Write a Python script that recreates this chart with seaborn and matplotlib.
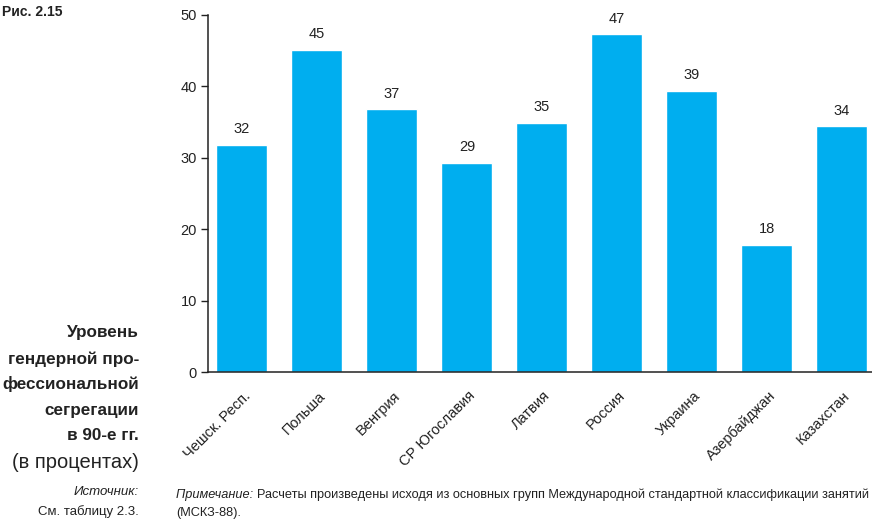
import matplotlib
matplotlib.use("Agg")
import matplotlib.pyplot as plt
import matplotlib.transforms as mtransforms
import seaborn as sns
import pandas as pd

countries = ["Чешск. Респ.", "Польша", "Венгрия", "СР Югославия", "Латвия",
             "Россия", "Украина", "Азербайджан", "Казахстан"]
segregation = [31.8, 45.1, 36.8, 29.3, 34.9, 47.3, 39.4, 17.8, 34.4]
y_ticks = [0, 10, 20, 30, 40, 50]

df = pd.DataFrame({"country": countries, "value": segregation})

sns.set_theme(style="white")
plt.rcParams["font.family"] = ["Liberation Sans", "DejaVu Sans"]
ink = "#222222"

fig = plt.figure(figsize=(8.72, 5.22), dpi=100)
ax = fig.add_axes([208 / 872, 1 - 372 / 522, 1 - 208 / 872, (372 - 15) / 522])

sns.barplot(data=df, x="country", y="value", color="#00aeef", saturation=1,
            width=0.68, ax=ax)

for i, v in enumerate(segregation):
    ax.text(i, v + 1.2, f"{v:.0f}", ha="center", va="bottom", fontsize=10.5,
            color=ink)

ax.set_ylim(0, 50)
ax.set_xlim(-0.453, 8.4)
ax.set_yticks(y_ticks)
ax.set_yticklabels([str(t) for t in y_ticks], fontsize=10.5, color=ink)
ax.set_xlabel("")
ax.set_ylabel("")
ax.tick_params(axis="y", direction="out", length=5, width=1, color=ink, pad=3,
               left=True)
ax.tick_params(axis="x", length=0, pad=12)

offset = mtransforms.ScaledTranslation(1 / 100, 0, fig.dpi_scale_trans)
ax.set_xticks(range(len(countries)))
ax.set_xticklabels(countries, rotation=45, ha="right", rotation_mode="anchor",
                   fontsize=10.5, color=ink)
for lbl in ax.get_xticklabels():
    lbl.set_transform(lbl.get_transform() + offset)

for side in ["top", "right"]:
    ax.spines[side].set_visible(False)
for side in ["left", "bottom"]:
    ax.spines[side].set_color(ink)
    ax.spines[side].set_linewidth(1.1)

fig.text(2 / 872, 1 - 12 / 522, "Рис. 2.15", fontsize=10, fontweight="bold",
         va="center", ha="left", color=ink)

# caption block on the left, right-aligned
title_lines = ["Уровень", "гендерной про-", "фессиональной", "сегрегации", "в 90-е гг."]
title_y = [333, 359, 384, 410, 435]
for line, yy in zip(title_lines, title_y):
    fig.text(139 / 872, 1 - yy / 522, line, fontsize=12.3, fontweight="bold",
             ha="right", va="center", color=ink)
fig.text(139 / 872, 1 - 462 / 522, "(в процентах)", fontsize=14.5,
         ha="right", va="center", color=ink)
fig.text(139 / 872, 1 - 492 / 522, "Источник:", fontsize=9.5, style="italic",
         ha="right", va="center", color=ink)
fig.text(139 / 872, 1 - 512 / 522, "См. таблицу 2.3.", fontsize=9.5,
         ha="right", va="center", color=ink)

# note under the chart
note_head = fig.text(176 / 872, 1 - 494 / 522, "Примечание: ", fontsize=9.2,
                     style="italic", ha="left", va="baseline", color=ink)
note_head.set_y(1 - 498 / 522)
fig.canvas.draw()
bb = note_head.get_window_extent()
fig.text(bb.x1 / fig.bbox.width, 1 - 498 / 522,
         "Расчеты произведены исходя из основных групп Международной стандартной классификации занятий",
         fontsize=9.2, ha="left", va="baseline", color=ink)
fig.text(176 / 872, 1 - 516 / 522, "(МСКЗ-88).", fontsize=9.2,
         ha="left", va="baseline", color=ink)

fig.savefig("out.png", dpi=100)
